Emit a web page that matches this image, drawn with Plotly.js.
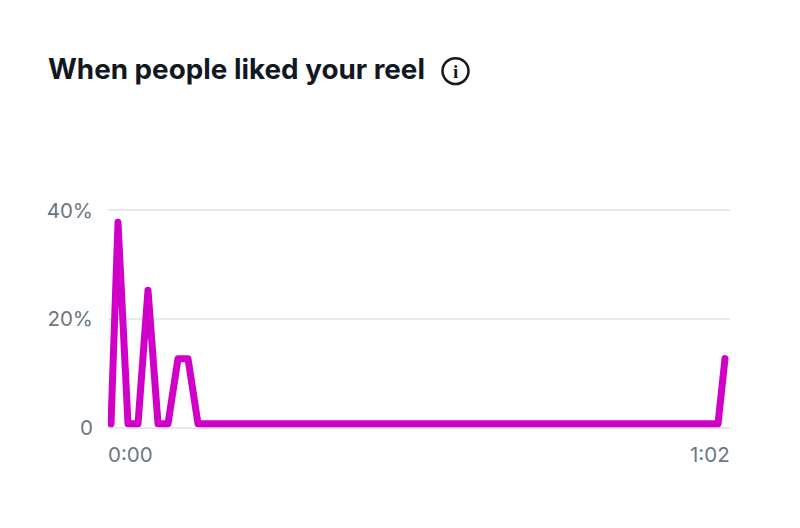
<!DOCTYPE html>
<html>
<head>
<meta charset="utf-8">
<script src="https://cdn.plot.ly/plotly-3.0.1.min.js"></script>
<style>
html, body { margin: 0; padding: 0; background: #fff; }
#likesPlot .js-line { stroke-linecap: round; stroke-linejoin: round; }
</style>
</head>
<body>
<div id="likesPlot" style="width:800px;height:528px"></div>
<script>
// seconds into the reel
var seconds = [0, 0.7, 1.7, 2.7, 3.7, 4.7, 5.7, 6.7, 7.7, 8.7, 9.7, 10.7, 11.7, 12.7, 13.7, 14.7, 15.7, 16.7, 17.7, 18.7, 19.7, 20.7, 23.7, 26.7, 30.7, 35.7, 40.7, 45.7, 50.7, 55.7, 60.7, 61.4];
var likedPct = [0.7, 37.8, 0.7, 0.7, 25.3, 0.7, 0.7, 12.7, 12.7, 0.7, 0.7, 0.7, 0.7, 0.7, 0.7, 0.7, 0.7, 0.7, 0.7, 0.7, 0.7, 0.7, 0.7, 0.7, 0.7, 0.7, 0.7, 0.7, 0.7, 0.7, 0.7, 12.7];
var yTicks = [0, 20, 40];
var yLabels = ["0", "20%", "40%"];
var startLabel = "0:00";
var endLabel = "1:02";

var tickFont = { family: "Inter, 'Noto Sans', sans-serif", size: 20.5, color: "#6b7682" };

// plot area in page pixels, for the bits placed by paper coords
var plotLeft = 108, plotRight = 730, plotTop = 204.5, plotBottom = 433.5;
function px(x) { return (x - plotLeft) / (plotRight - plotLeft); }
function py(y) { return (plotBottom - y) / (plotBottom - plotTop); }

Plotly.newPlot(
    document.getElementById('likesPlot'), [{
        x: seconds,
        y: likedPct,
        type: "scatter",
        mode: "lines",
        line: { color: "#d000c8", width: 7 },
        cliponaxis: false,
        hoverinfo: "skip"
    }],
    {
        width: 800,
        height: 528,
        paper_bgcolor: "#fff",
        plot_bgcolor: "#fff",
        showlegend: false,
        margin: { l: plotLeft, r: 800 - plotRight, t: plotTop, b: 528 - plotBottom, pad: 0 },
        title: {
            text: "<b>When people liked your reel</b>",
            x: 48 / 800,
            xref: "container",
            xanchor: "left",
            y: 1 - 69.5 / 528,
            yref: "container",
            yanchor: "middle",
            font: { family: "Inter, sans-serif", size: 27.8, color: "#12181f" }
        },
        xaxis: {
            range: [-0.3, 61.9],
            showgrid: false,
            zeroline: false,
            showticklabels: false,
            ticks: ""
        },
        yaxis: {
            range: [-1, 41],
            tickvals: yTicks,
            ticktext: yLabels,
            tickfont: tickFont,
            ticklabelstandoff: 14,
            gridcolor: "#e6eaee",
            gridwidth: 1.5,
            zeroline: false,
            ticks: ""
        },
        shapes: [{
            type: "circle",
            xref: "paper", yref: "paper",
            x0: px(442.5), x1: px(468.5),
            y0: py(83), y1: py(57),
            line: { color: "#12181f", width: 2.5 }
        }],
        annotations: [
            { text: "<b>i</b>", xref: "paper", yref: "paper", x: px(455.5), y: py(70), xanchor: "center", yanchor: "middle",
              showarrow: false, font: { family: "'Liberation Serif', serif", size: 19, color: "#12181f" } },
            { text: startLabel, xref: "paper", yref: "paper", x: px(108), y: py(455), xanchor: "left", yanchor: "middle",
              showarrow: false, font: tickFont, xshift: -2 },
            { text: endLabel, xref: "paper", yref: "paper", x: px(730), y: py(455), xanchor: "right", yanchor: "middle",
              showarrow: false, font: tickFont, xshift: 2 }
        ]
    },
    { displayModeBar: false }
);
</script>
</body>
</html>
